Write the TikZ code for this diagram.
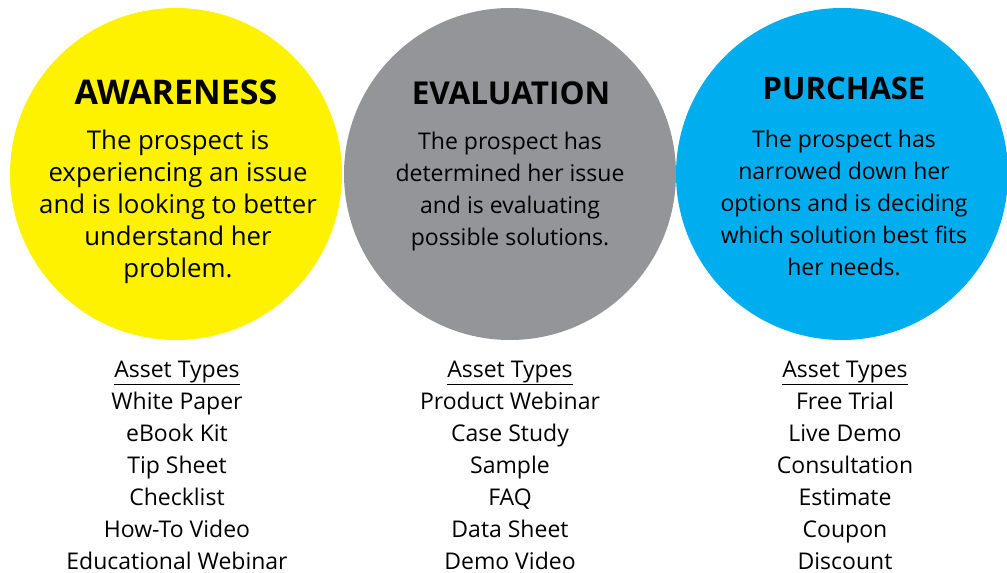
\documentclass[tikz,border=0pt]{standalone}
\usepackage{fontspec}
\setmainfont{Open Sans}
\definecolor{cyel}{HTML}{FFF200}
\definecolor{cgray}{HTML}{939598}
\definecolor{cblue}{HTML}{00AEEF}
\begin{document}
\begin{tikzpicture}[x=1pt,y=-1pt,
  disc/.style={circle,minimum size=332pt,inner sep=0pt,draw=none},
  ttl/.style={font=\fontsize{#1}{34}\selectfont\bfseries,inner sep=0pt},
  body/.style={font=\fontsize{#1}{32}\selectfont,align=center,inner sep=0pt},
  body/.default=23,
]
\useasboundingbox (0,0) rectangle (1007,573);
\node[disc,fill=cyel] (c1) at (176,174) {};
\node[disc,fill=cgray] (c2) at (510,174) {};
\node[disc,fill=cblue] (c3) at (842,174) {};

\node[ttl=34] (t1) at (176,92) {AWARENESS};
\node[ttl=31.5] (t2) at (511,93) {EVALUATION};
\node[ttl=31] (t3) at (844,88) {PURCHASE};

\node[body=25.8] (d1) at (178,207) {The prospect is\\experiencing an issue\\and is looking to better\\understand her\\problem.};
\node[body] (d2) at (510,192) {The prospect has\\determined her issue\\and is evaluating\\possible solutions.};
\node[body] (d3) at (844,203) {The prospect has\\narrowed down her\\options and is deciding\\which solution best fits\\her needs.};

\node[body] (l1) at (177,465.5) {\underline{Asset Types}\\White Paper\\eBook Kit\\Tip Sheet\\Checklist\\How-To Video\\Educational Webinar};
\node[body] (l2) at (510,465.5) {\underline{Asset Types}\\Product Webinar\\Case Study\\Sample\\FAQ\\Data Sheet\\Demo Video};
\node[body] (l3) at (845,465.5) {\underline{Asset Types}\\Free Trial\\Live Demo\\Consultation\\Estimate\\Coupon\\Discount};
\end{tikzpicture}
\end{document}
